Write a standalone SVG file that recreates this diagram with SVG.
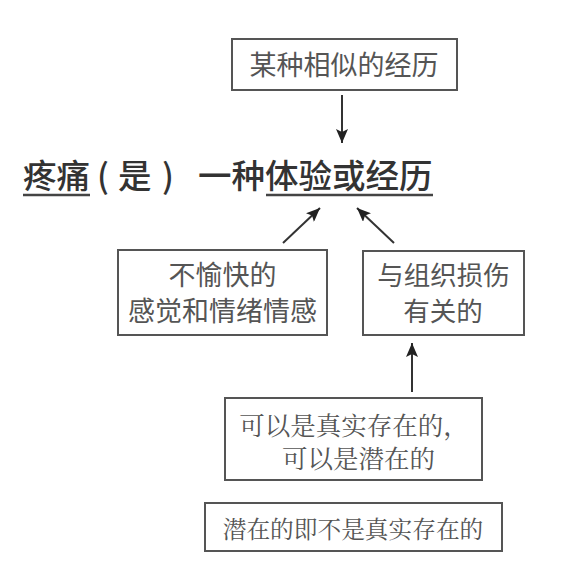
<svg xmlns="http://www.w3.org/2000/svg" width="571" height="563" viewBox="0 0 571 563">
<style>
.box{fill:#fff;stroke:#555;stroke-width:2}
.sans{font-family:"Noto Sans CJK SC","Noto Sans CJK TC",sans-serif;fill:#555}
.serif{font-family:"Noto Serif CJK SC","Noto Sans CJK SC",serif;fill:#555}
.title{font-family:"Noto Sans CJK SC","Noto Sans CJK TC",sans-serif;fill:#333;font-weight:500;font-size:33.5px}
.ul{stroke:#444;stroke-width:2.5}
.conn{stroke:#333;stroke-width:2;fill:none;marker-end:url(#ah)}
</style>
<defs>
<marker id="ah" markerUnits="userSpaceOnUse" markerWidth="16" markerHeight="12" refX="14" refY="6" orient="auto">
<path d="M0,0 L14,6 L0,12 L3,6 Z" fill="#222"/>
</marker>
</defs>
<rect width="571" height="563" fill="#fff"/>
<g id="title">
<text class="title" y="188"><tspan x="23">疼痛</tspan><tspan x="97">(</tspan><tspan x="118">是</tspan><tspan x="162">)</tspan><tspan x="198">一种体验或经历</tspan></text>
<line class="ul" x1="23" y1="195" x2="90" y2="195"/>
<line class="ul" x1="266" y1="195" x2="433" y2="195"/>
</g>
<g id="node-similar">
<rect class="box" x="232" y="39" width="225" height="51"/>
<text class="sans" x="344" y="75" font-size="27" text-anchor="middle">某种相似的经历</text>
</g>
<g id="node-unpleasant">
<rect class="box" x="118" y="250" width="209" height="85"/>
<text class="sans" font-size="27" text-anchor="middle"><tspan x="222.5" y="285">不愉快的</tspan><tspan x="222.5" y="321">感觉和情绪情感</tspan></text>
</g>
<g id="node-tissue">
<rect class="box" x="363" y="251" width="161" height="84"/>
<text class="sans" font-size="26.5" text-anchor="middle"><tspan x="443.5" y="285">与组织损伤</tspan><tspan x="443" y="321">有关的</tspan></text>
</g>
<g id="node-real">
<rect class="box" x="225" y="398" width="257" height="82"/>
<text class="serif" font-size="25.5" text-anchor="middle"><tspan x="354" y="435">可以是真实存在的，</tspan><tspan x="358.5" y="468">可以是潜在的</tspan></text>
</g>
<g id="node-potential">
<rect class="box" x="205" y="503" width="297" height="48"/>
<text class="serif" x="353" y="538" font-size="23.7" text-anchor="middle">潜在的即不是真实存在的</text>
</g>
<g id="connectors">
<line class="conn" x1="342" y1="95" x2="342" y2="143"/>
<line class="conn" x1="283" y1="243" x2="320" y2="208"/>
<line class="conn" x1="394" y1="243" x2="357" y2="208"/>
<line class="conn" x1="412" y1="392" x2="412" y2="343"/>
</g>
</svg>
